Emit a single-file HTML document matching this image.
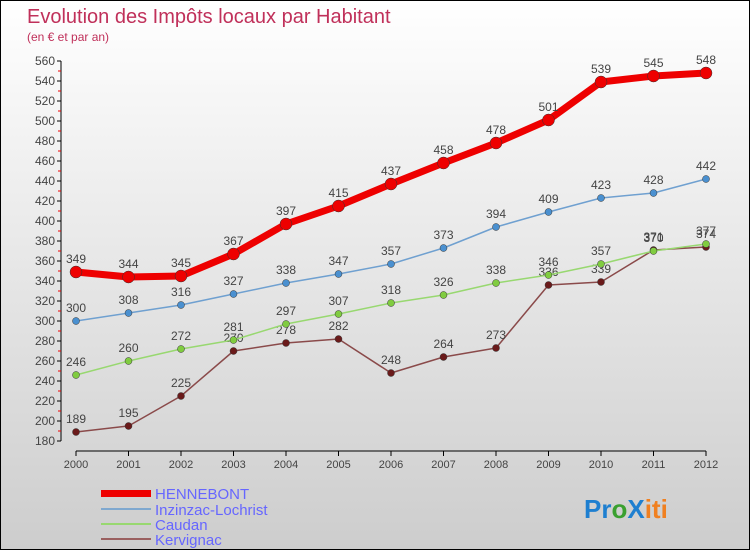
<!DOCTYPE html>
<html><head><meta charset="utf-8"><style>
html,body{margin:0;padding:0}
body{width:750px;height:550px;overflow:hidden;font-family:"Liberation Sans",sans-serif}
#wrap{position:relative;width:748px;height:548px;border:1px solid #000;background:linear-gradient(#ffffff,#cdcdcd)}
svg{position:absolute;left:0;top:0}
</style></head><body>
<div id="wrap">
<svg id="chart" width="750" height="550">
<text x="26" y="22" font-size="20" fill="#c0305a">Evolution des Impôts locaux par Habitant</text>
<text x="26" y="40" font-size="12" fill="#c0305a">(en € et par an)</text>
<g id="axes"></g><g id="series"></g>
<g font-size="15" fill="#6666ff">
<rect x="100" y="489" width="50" height="7" fill="#e00"/>
<text x="154" y="498">HENNEBONT</text>
<rect x="100" y="507" width="50" height="2" fill="#7fa8cf"/>
<text x="154" y="514">Inzinzac-Lochrist</text>
<rect x="100" y="522" width="50" height="2" fill="#98d870"/>
<text x="154" y="529">Caudan</text>
<rect x="100" y="537" width="50" height="2" fill="#9a6060"/>
<text x="154" y="544">Kervignac</text>
</g>
<g font-size="26" font-weight="bold">
<text x="583" y="517"><tspan fill="#1e7fd0">Pr</tspan><tspan fill="#3aa030">o</tspan><tspan fill="#1e7fd0">X</tspan><tspan fill="#f08020">iti</tspan></text>
</g>
</svg></div>
<script>
const years=["2000","2001","2002","2003","2004","2005","2006","2007","2008","2009","2010","2011","2012"];
const yTicks=[180,200,220,240,260,280,300,320,340,360,380,400,420,440,460,480,500,520,540,560];
const hennebont=[349,344,345,367,397,415,437,458,478,501,539,545,548];
const inzinzac=[300,308,316,327,338,347,357,373,394,409,423,428,442];
const caudan=[246,260,272,281,297,307,318,326,338,346,357,370,377];
const kervignac=[189,195,225,270,278,282,248,264,273,336,339,371,374];
const NS="http://www.w3.org/2000/svg";
const X=i=>75+i*52.5, Y=v=>440-(v-180);
function mk(t,a,p){const e=document.createElementNS(NS,t);for(const k in a)e.setAttribute(k,a[k]);p.appendChild(e);return e;}
const ax=document.getElementById('axes');
mk('line',{x1:60,y1:60,x2:60,y2:440,stroke:'#000'},ax);
mk('line',{x1:75,y1:450,x2:705,y2:450,stroke:'#000'},ax);
yTicks.forEach(v=>{
 mk('line',{x1:56,y1:Y(v),x2:60,y2:Y(v),stroke:'#000'},ax);
 if(v<560) mk('line',{x1:57,y1:Y(v)-10,x2:60,y2:Y(v)-10,stroke:'#e00'},ax);
 const t=mk('text',{x:54,y:Y(v)+4,'text-anchor':'end','font-size':12,fill:'#444'},ax);
 
 
 t.textContent=v;
});
years.forEach((y,i)=>{
 mk('line',{x1:X(i),y1:450,x2:X(i),y2:455,stroke:'#000'},ax);
 const t=mk('text',{x:X(i),y:467,'text-anchor':'middle','font-size':11,fill:'#444'},ax);
 
 
 t.textContent=y;
});
const sg=document.getElementById('series');
function series(name,data,color,w,r,pc){
 const g=mk('g',{},sg);
 
 
 const pl=mk('polyline',{points:data.map((v,i)=>X(i)+','+Y(v)).join(' '),fill:'none',stroke:color,'stroke-width':w,'stroke-linejoin':'round'},g);
 
 
 data.forEach((v,i)=>{
  const c=mk('circle',{cx:X(i),cy:Y(v),r:r,fill:pc,stroke:'#333','stroke-width':0.5},g);
  
  
  const t=mk('text',{x:X(i),y:Y(v)-9,'text-anchor':'middle','font-size':12,fill:'#444'},g);
  
  
  t.textContent=v;
 });
}
series('kervignac',kervignac,'#8a4a4a',1.5,3.5,'#6a1a1a');
series('caudan',caudan,'#98d870',1.5,3.5,'#80cc40');
series('inzinzac',inzinzac,'#6fa0d0',1.5,3.5,'#4a90d0');
series('hennebont',hennebont,'#ee0000',7,6,'#ee0000');
</script>
</body></html>
